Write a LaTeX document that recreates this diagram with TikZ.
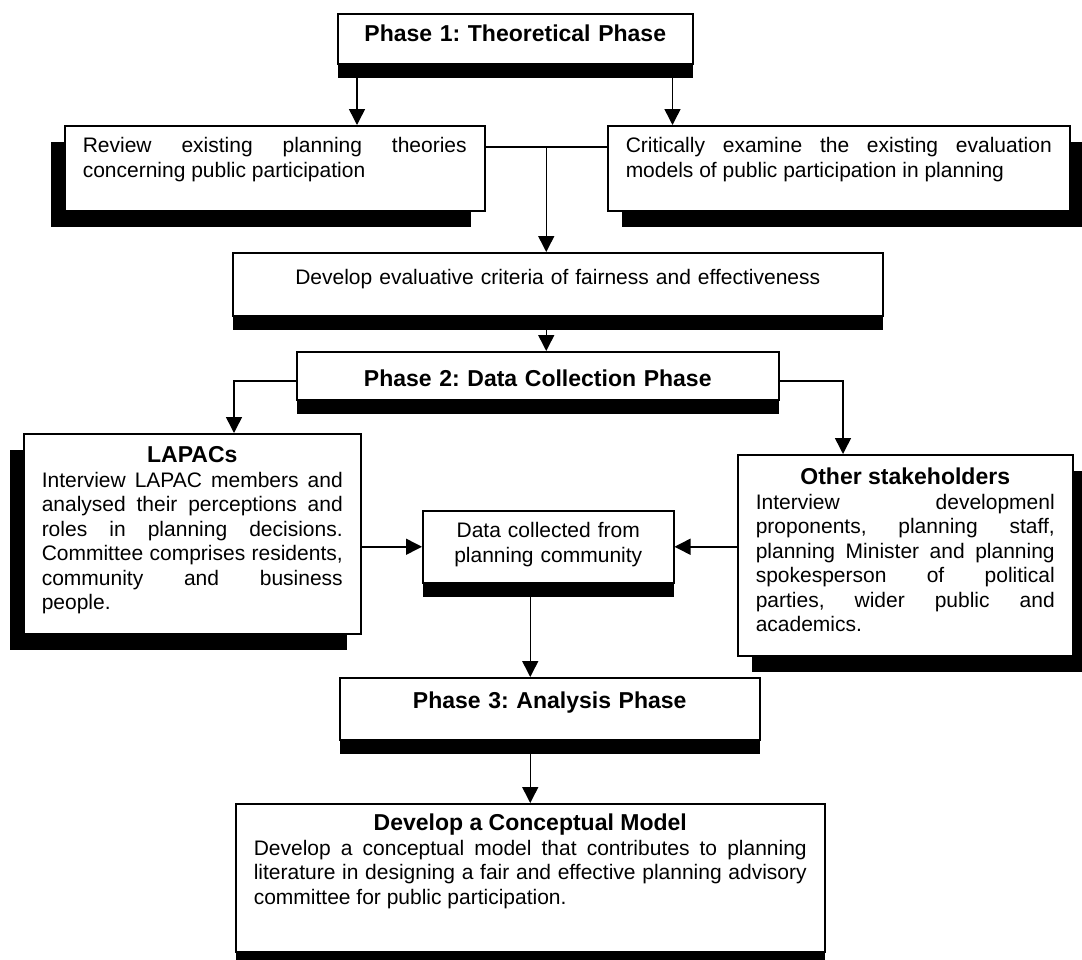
\documentclass[tikz,border=0pt]{standalone}
\usepackage{fontspec}
\setmainfont{Liberation Sans}
\usepackage{tikz}
\usetikzlibrary{arrows.meta, positioning, shadows}

\newcommand{\bodyfont}{\fontsize{21}{24.5}\selectfont\frenchspacing\hyphenpenalty=10000\exhyphenpenalty=10000}
\newcommand{\phasefont}{\fontsize{23}{27}\selectfont\bfseries\frenchspacing}

\tikzset{
  box/.style={draw, fill=white, line width=1.5pt, anchor=north west,
    inner xsep=18pt, inner ysep=0pt, align=justify, font=\bodyfont},
  phase/.style={box, align=center, font=\phasefont},
  shadowdown/.style={drop shadow={shadow xshift=0pt, shadow yshift=-14pt, fill=black, opacity=1}},
  shadowleft/.style={drop shadow={shadow xshift=-14pt, shadow yshift=-16pt, fill=black, opacity=1}},
  shadowright/.style={drop shadow={shadow xshift=14pt, shadow yshift=-16pt, fill=black, opacity=1}},
  arr/.style={line width=1.5pt, -{Triangle[length=16pt, width=16pt]}}
}

\begin{document}
\begin{tikzpicture}[x=1pt, y=-1pt]
    \useasboundingbox (0,0) rectangle (1082,959);
    % phase 1
    \node[phase, shadowdown, text width=319pt, text height=28pt, text depth=22pt] (phase1) at (337,13) {Phase 1: Theoretical Phase};
    \node[box, shadowleft, text width=384pt, text height=27pt, text depth=58pt] (review) at (64,125)
        {Review existing planning theories concerning public participation};
    \node[box, shadowright, text width=426pt, text height=27pt, text depth=58pt] (critic) at (607,125)
        {Critically examine the existing evaluation models of public participation in planning};
    \node[box, shadowdown, align=center, text width=614pt, text height=32pt, text depth=31pt] (develop) at (232,252)
        {Develop evaluative criteria of fairness and effectiveness};
    % phase 2
    \node[phase, shadowdown, text width=446pt, text height=35pt, text depth=13pt] (phase2) at (296,351) {Phase 2: Data Collection Phase};
    \node[box, shadowleft, text width=301pt, text height=29pt, text depth=171pt] (lapac) at (23,433)
        {\makebox[\linewidth]{\phasefont LAPACs}\\
         Interview LAPAC members and\linebreak analysed their perceptions and\linebreak
         roles in planning decisions.\linebreak Committee comprises residents,\linebreak
         community and business\linebreak people.};
    \node[box, shadowdown, align=center, text width=215pt, text height=27pt, text depth=45pt] (data) at (422,510)
        {Data collected from\\planning community};
    \node[box, shadowright, text width=299pt, text height=30pt, text depth=171pt] (other) at (737,454)
        {\makebox[\linewidth]{\phasefont Other stakeholders}\\
         Interview developmenl\linebreak proponents, planning staff,\linebreak
         planning Minister and planning\linebreak spokesperson of political\linebreak
         parties, wider public and\linebreak academics.};
    % phase 3
    \node[phase, shadowdown, text width=384pt, text height=31pt, text depth=31pt] (phase3) at (339,677) {Phase 3: Analysis Phase};
    \node[box, shadowdown, text width=553pt, text height=27pt, text depth=121pt] (concept) at (235,803)
        {\makebox[\linewidth]{\phasefont Develop a Conceptual Model}\\
         Develop a conceptual model that contributes to planning literature in designing a fair and effective planning advisory committee for public participation.};

    % connectors
    \coordinate (p1l) at ([xshift=20pt]phase1.south west);
    \coordinate (p1r) at ([xshift=-21pt]phase1.south east);
    \draw[arr] (p1l) -- (p1l |- review.north);
    \draw[arr] (p1r) -- (p1r |- critic.north);
    \coordinate (jn) at ([yshift=-22pt]review.north east);
    \draw[line width=1.5pt] (jn) -- (jn -| critic.west) coordinate[pos=0.5] (jd);
    \draw[arr] (jd) -- (jd |- develop.north);
    \draw[arr] (jd |- develop.south) -- (jd |- phase2.north);
    \coordinate (ltop) at ([xshift=211pt]lapac.north west);
    \coordinate (otop) at ([xshift=106pt]other.north west);
    \draw[arr] ([yshift=-5pt]phase2.west) -| (ltop);
    \draw[arr] ([yshift=-5pt]phase2.east) -| (otop);
    \draw[arr] (lapac.east |- data.west) -- (data.west);
    \draw[arr] (other.west |- data.east) -- (data.east);
    \draw[arr] (concept.north |- data.south) -- (concept.north |- phase3.north);
    \draw[arr] (concept.north |- phase3.south) -- (concept.north);
\end{tikzpicture}
\end{document}
